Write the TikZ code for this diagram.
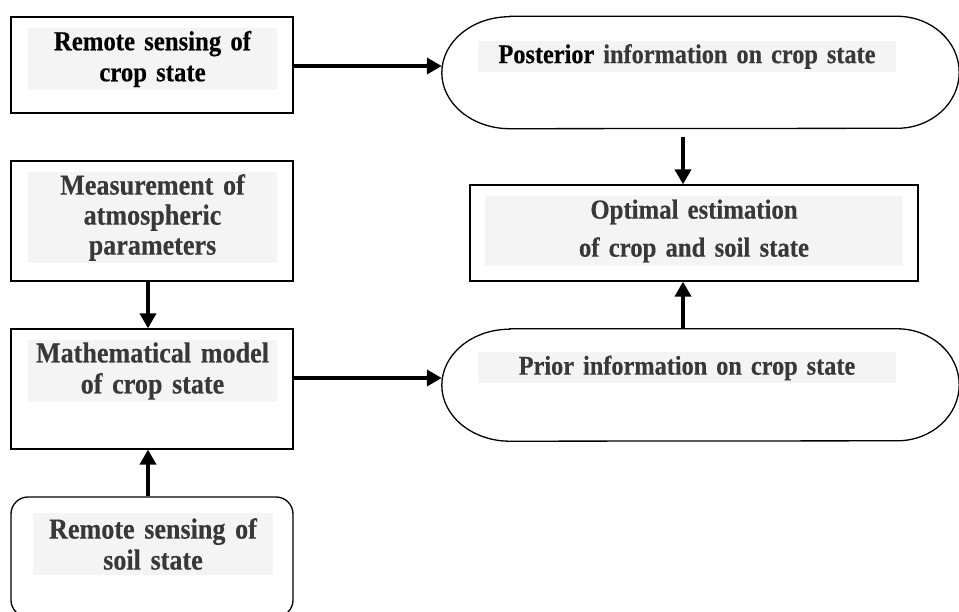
\documentclass[tikz,border=0pt]{standalone}
\usepackage{fontspec}
\setmainfont[FakeStretch=0.9, BoldFeatures={FakeBold=0.35}]{Liberation Serif}
\usetikzlibrary{arrows.meta}
\definecolor{txtgray}{HTML}{383838}
\definecolor{bggray}{HTML}{F4F4F4}
\begin{document}
\begin{tikzpicture}[x=1pt,y=-1pt,
  frame/.style={draw=black, line width=1.3pt, inner sep=0pt, minimum width=282pt},
  shell/.style={draw=none, inner sep=0pt, minimum width=517pt, minimum height=112pt},
  label/.style={fill=bggray, inner sep=0pt, align=center, text=txtgray,
    font=\bfseries\fontsize{27.5}{31}\selectfont},
  biglabel/.style={label, font=\bfseries\fontsize{29}{31}\selectfont},
  arr/.style={line width=4pt, -{Triangle[length=15pt,width=16pt]}},
  outline/.style={draw=black, line width=1.3pt}]
\useasboundingbox (0,0) rectangle (959,612);
% left column
\node[frame, minimum height=96pt] (rsc) at (152,65) {};
\node[label, text=black, text width=249pt, minimum height=62pt] (rsct) at (152.5,59) {Remote sensing of\\crop state};
\node[frame, minimum height=120pt] (meas) at (152,221) {};
\node[biglabel, text width=249pt, minimum height=91pt, font=\bfseries\fontsize{29}{30}\selectfont] (meast) at (152.5,217.5) {Measurement of\\atmospheric\\parameters};
\node[frame, minimum height=120pt] (math) at (152,389) {};
\node[biglabel, text width=249pt, minimum height=62pt] (matht) at (152.5,371) {Mathematical model\\of crop state};
\node[frame, rounded corners=17pt, minimum height=120pt] (soil) at (152,557) {};
\node[biglabel, text width=240pt, minimum height=62pt] (soilt) at (153,544) {Remote sensing of\\soil state};
% right column
\node[shell] (post) at (700.5,72.5) {};
\draw[outline] ([xshift=68pt]post.north west) -- ([xshift=-62pt]post.north east)
  arc[start angle=90, end angle=-90, x radius=62pt, y radius=56pt]
  -- ([xshift=68pt]post.south west)
  arc[start angle=270, end angle=90, x radius=68pt, y radius=56pt] -- cycle;
\node[label, text width=418pt, minimum height=31pt, font=\bfseries\fontsize{27}{31}\selectfont] (postt) at (687,56.5) {\textcolor{black}{Posterior} information on crop state};
\node[frame, minimum width=448pt, minimum height=96pt] (opt) at (694,233) {};
\node[label, text width=418pt, minimum height=70pt, font=\bfseries\fontsize{27.5}{38}\selectfont] (optt) at (694,231) {Optimal estimation\\of crop and soil state};
\node[shell] (prior) at (700.5,385) {};
\draw[outline] ([xshift=68pt]prior.north west) -- ([xshift=-62pt]prior.north east)
  arc[start angle=90, end angle=-90, x radius=62pt, y radius=56pt]
  -- ([xshift=68pt]prior.south west)
  arc[start angle=270, end angle=90, x radius=68pt, y radius=56pt] -- cycle;
\node[label, text width=418pt, minimum height=31pt, font=\bfseries\fontsize{27}{31}\selectfont] (priort) at (687,368) {Prior information on crop state};
% connectors
\coordinate (ax) at (683,0);
\coordinate (lx) at (148,0);
\draw[arr] (rsc.east |- 0,66) -- (post.west |- 0,66);
\draw[arr] (math.east |- 0,378) -- (prior.west |- 0,378);
\draw[arr] ([yshift=-8pt]post.south -| ax) -- (opt.north -| ax);
\draw[arr] (prior.north -| ax) -- (opt.south -| ax);
\draw[arr] (meas.south -| lx) -- (math.north -| lx);
\draw[arr] (soil.north -| lx) -- (math.south -| lx);
\end{tikzpicture}
\end{document}
